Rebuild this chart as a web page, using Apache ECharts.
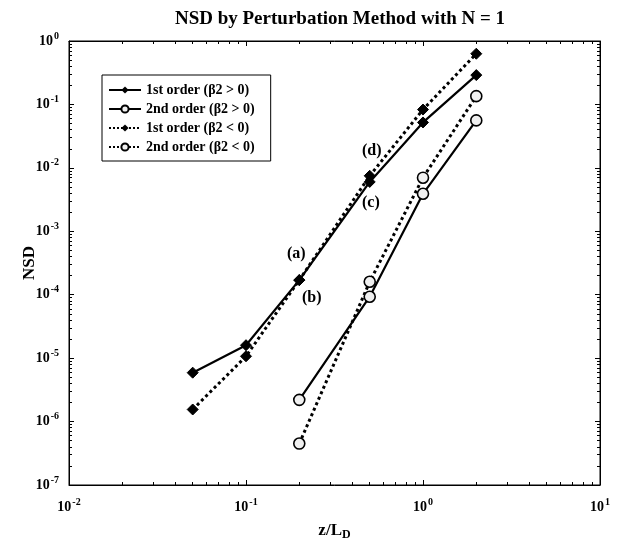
<!DOCTYPE html>
<html>
<head>
<meta charset="utf-8">
<script src="https://cdn.jsdelivr.net/npm/echarts@6/dist/echarts.min.js"></script>
<style>
  html, body { margin: 0; padding: 0; background: #fff; }
  #chart { width: 632px; height: 546px; }
</style>
</head>
<body>
<div id="chart"></div>
<script>
  // z/L_D positions
  var zFirst = [0.05, 0.1, 0.2, 0.5, 1, 2];
  var zSecond = [0.2, 0.5, 1, 2];
  // NSD values
  var firstPos = [5.9e-6, 1.6e-5, 1.7e-4, 6.0e-3, 0.052, 0.29];
  var secondPos = [2.2e-6, 9.3e-5, 3.9e-3, 0.056];
  var firstNeg = [1.55e-6, 1.07e-5, 1.7e-4, 7.5e-3, 0.083, 0.63];
  var secondNeg = [4.5e-7, 1.6e-4, 7.0e-3, 0.135];
  var names = ['1st order (β2 > 0)', '2nd order (β2 > 0)', '1st order (β2 < 0)', '2nd order (β2 < 0)'];

  function pairs(xs, ys) {
    return xs.map(function (x, i) { return [x, ys[i]]; });
  }

  var serif = 'Liberation Serif';
  var powLabel = {
    formatter: function (v) {
      var e = Math.round(Math.log10(v));
      return '{b|10}{s|' + e + '}';
    },
    rich: {
      b: { fontFamily: serif, fontSize: 14, fontWeight: 'bold', color: '#000' },
      s: { fontFamily: serif, fontSize: 10, fontWeight: 'bold', color: '#000', verticalAlign: 'top', padding: [0, 0, 10, 1] }
    }
  };

  function logAxis(pos, min, max, show) {
    return {
      type: 'log',
      logBase: 10,
      position: pos,
      min: min,
      max: max,
      axisLine: { show: true, onZero: false, lineStyle: { color: '#000', width: 1 } },
      axisTick: { show: true, inside: true, length: 5, lineStyle: { color: '#000' } },
      minorTick: { show: true, splitNumber: 9, length: 3, lineStyle: { color: '#000' } },
      splitLine: { show: false },
      axisLabel: show ? Object.assign({ show: true, margin: 10 }, powLabel) : { show: false }
    };
  }

  var chart = echarts.init(document.getElementById('chart'));

  var xMain = logAxis('bottom', 0.01, 10, true);
  xMain.axisLabel.margin = 12;
  xMain.name = 'z/L{d|D}';
  xMain.nameLocation = 'middle';
  xMain.nameGap = 36;
  xMain.nameMoveOverlap = false;
  xMain.nameTextStyle = {
    fontFamily: serif, fontSize: 17, fontWeight: 'bold', color: '#000',
    rich: { d: { fontFamily: serif, fontSize: 12, fontWeight: 'bold', color: '#000', verticalAlign: 'bottom', padding: [8, 0, 0, 0] } }
  };
  var yMain = logAxis('left', 1e-7, 1, true);
  yMain.name = 'NSD';
  yMain.nameLocation = 'middle';
  yMain.nameGap = 31;
  yMain.nameMoveOverlap = false;
  yMain.nameTextStyle = { fontFamily: serif, fontSize: 17, fontWeight: 'bold', color: '#000' };

  function lineSeries(name, data, dashed, symbol) {
    var diamond = symbol === 'diamond';
    return {
      name: name,
      type: 'line',
      data: data,
      symbol: diamond ? 'diamond' : 'circle',
      symbolSize: 11,
      lineStyle: { color: '#000', width: dashed ? 3 : 2.2, type: dashed ? 'dotted' : 'solid' },
      itemStyle: diamond
        ? { color: '#000', borderColor: '#000' }
        : { color: '#f0f0f0', borderColor: '#000', borderWidth: 1.6 },
      z: 3
    };
  }

  chart.setOption({
    animation: false,
    backgroundColor: '#fff',
    textStyle: { fontFamily: serif },
    title: {
      text: 'NSD by Perturbation Method with N = 1',
      left: 335,
      top: 5,
      textAlign: 'center',
      textStyle: { fontFamily: serif, fontSize: 19, fontWeight: 'bold', color: '#000' }
    },
    grid: { left: 69, right: 32, top: 41, bottom: 57, show: true, borderColor: '#000', borderWidth: 1 },
    legend: {
      orient: 'vertical',
      left: 102,
      top: 75,
      itemWidth: 32,
      itemHeight: 9,
      itemGap: 5,
      padding: [8, 16, 7, 6],
      borderColor: '#000',
      borderWidth: 1,
      backgroundColor: '#fff',
      textStyle: { fontFamily: serif, fontSize: 14, fontWeight: 'bold', color: '#000' },
      data: names
    },
    xAxis: [xMain, logAxis('top', 0.01, 10, false)],
    yAxis: [yMain, logAxis('right', 1e-7, 1, false)],
    series: [
      lineSeries(names[0], pairs(zFirst, firstPos), false, 'diamond'),
      lineSeries(names[1], pairs(zSecond, secondPos), false, 'circle'),
      lineSeries(names[2], pairs(zFirst, firstNeg), true, 'diamond'),
      lineSeries(names[3], pairs(zSecond, secondNeg), true, 'circle')
    ],
    graphic: [
      { type: 'text', left: 287, top: 246, style: { text: '(a)', font: 'bold 16px "Liberation Serif"', fill: '#000' } },
      { type: 'text', left: 302, top: 290, style: { text: '(b)', font: 'bold 16px "Liberation Serif"', fill: '#000' } },
      { type: 'text', left: 362, top: 195, style: { text: '(c)', font: 'bold 16px "Liberation Serif"', fill: '#000' } },
      { type: 'text', left: 362, top: 143, style: { text: '(d)', font: 'bold 16px "Liberation Serif"', fill: '#000' } }
    ]
  });
</script>
</body>
</html>
